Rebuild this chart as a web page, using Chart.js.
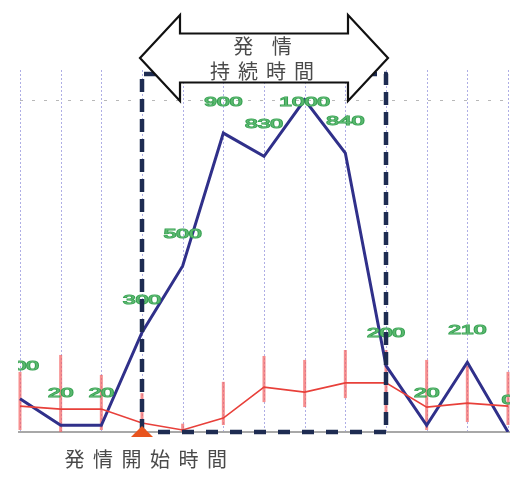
<!DOCTYPE html>
<html>
<head>
<meta charset="utf-8">
<script src="https://cdn.jsdelivr.net/npm/chart.js@4.4.1/dist/chart.umd.min.js"></script>
<style>
html,body{margin:0;padding:0;background:#fff;}
#wrap{width:519px;height:488px;position:relative;}
</style>
</head>
<body>
<div id="wrap"><canvas id="c" width="519" height="488"></canvas></div>
<script>
const categories = ['1','2','3','4','5','6','7','8','9','10','11','12','13'];
const blueValues = [100, 20, 20, 300, 500, 900, 830, 1000, 840, 200, 20, 210, 0];
const redValues  = [78, 69, 69, 27, 6, 42, 135, 120, 148, 148, 75, 87, 78];
const redErrLow  = [6, 0, 6, 0, 0, 21, 90, 75, 102, 51, 6, 30, 21];
const redErrHigh = [181, 232, 172, 117, 25, 151, 229, 217, 247, 247, 217, 199, 181];
const yGridValues = [1000];
const estrusStartIndex = 3;
const estrusEndIndex = 9;
const arrowTitleLines = ['発 情', '持続時間'];
const startLabel = '発情開始時間';

const overlay = {
  id: 'overlay',
  beforeDatasetsDraw(chart) {
    const ctx = chart.ctx, a = chart.chartArea;
    const xs = chart.scales.x, ys = chart.scales.y;
    ctx.save();
    ctx.strokeStyle = 'rgba(130,130,215,0.65)';
    ctx.lineWidth = 1;
    ctx.setLineDash([2, 2]);
    categories.forEach((c, i) => {
      const x = Math.round(xs.getPixelForValue(i)) + 0.5;
      ctx.beginPath(); ctx.moveTo(x, a.top); ctx.lineTo(x, a.bottom); ctx.stroke();
    });
    ctx.strokeStyle = '#b8b8b8';
    ctx.setLineDash([3, 9]);
    yGridValues.forEach(v => {
      const y = Math.round(ys.getPixelForValue(v)) + 0.5;
      ctx.beginPath(); ctx.moveTo(a.left, y); ctx.lineTo(a.right, y); ctx.stroke();
    });
    ctx.setLineDash([]);
    const y0 = ys.getPixelForValue(0);
    ctx.strokeStyle = '#a8a8a8';
    ctx.lineWidth = 2;
    ctx.beginPath(); ctx.moveTo(a.left - 2, y0); ctx.lineTo(a.right + 2, y0); ctx.stroke();
    ctx.strokeStyle = 'rgba(242,95,95,0.7)';
    ctx.lineWidth = 3;
    redErrLow.forEach((lo, i) => {
      const x = xs.getPixelForValue(i);
      ctx.beginPath();
      ctx.moveTo(x, ys.getPixelForValue(lo));
      ctx.lineTo(x, ys.getPixelForValue(redErrHigh[i]));
      ctx.stroke();
    });
    ctx.restore();
  },
  afterDatasetsDraw(chart) {
    const ctx = chart.ctx;
    const xs = chart.scales.x, ys = chart.scales.y;
    ctx.save();
    ctx.beginPath(); ctx.rect(18, 0, 492, 488); ctx.clip();
    const clampY = ys.getPixelForValue(yGridValues[0]) + 3;
    ctx.font = '13px "Liberation Sans", Arial, sans-serif';
    ctx.textAlign = 'center';
    ctx.textBaseline = 'middle';
    blueValues.forEach((v, i) => {
      const x = xs.getPixelForValue(i);
      const y = Math.max(ys.getPixelForValue(v) - 32, clampY);
      ctx.save();
      ctx.translate(x, y);
      ctx.scale(1.75, 1);
      ctx.lineWidth = 1.2;
      ctx.strokeStyle = '#34a050';
      ctx.strokeText(String(v), 0, 0);
      ctx.fillStyle = '#5cb870';
      ctx.fillText(String(v), 0, 0);
      ctx.restore();
    });
    ctx.restore();
  },
  afterDraw(chart) {
    const ctx = chart.ctx, a = chart.chartArea;
    const xs = chart.scales.x, ys = chart.scales.y;
    const xL = xs.getPixelForValue(estrusStartIndex);
    const xR = xs.getPixelForValue(estrusEndIndex);
    const yB = ys.getPixelForValue(0);
    const yT = a.top + 4;
    ctx.save();
    ctx.strokeStyle = '#1e2c52';
    ctx.lineWidth = 4.5;
    ctx.setLineDash([13, 7]);
    ctx.lineJoin = 'round';
    ctx.beginPath();
    ctx.moveTo(xL, yB);
    ctx.lineTo(xL, yT);
    ctx.lineTo(xR, yT);
    ctx.lineTo(xR, yB);
    ctx.stroke();
    ctx.setLineDash([12, 12]);
    ctx.beginPath();
    ctx.moveTo(xR, yB); ctx.lineTo(xL, yB);
    ctx.stroke();
    ctx.setLineDash([]);
    const tL = xL - 2, tR = xR + 2, midY = 58, head = 40, hh = 43, sh = 24.5;
    ctx.beginPath();
    ctx.moveTo(tL, midY);
    ctx.lineTo(tL + head, midY - hh);
    ctx.lineTo(tL + head, midY - sh);
    ctx.lineTo(tR - head, midY - sh);
    ctx.lineTo(tR - head, midY - hh);
    ctx.lineTo(tR, midY);
    ctx.lineTo(tR - head, midY + hh);
    ctx.lineTo(tR - head, midY + sh);
    ctx.lineTo(tL + head, midY + sh);
    ctx.lineTo(tL + head, midY + hh);
    ctx.closePath();
    ctx.fillStyle = '#ffffff';
    ctx.fill();
    ctx.strokeStyle = '#111';
    ctx.lineWidth = 2.2;
    ctx.lineJoin = 'miter';
    ctx.stroke();
    const cx = (tL + tR) / 2;
    ctx.fillStyle = '#4a4a4a';
    ctx.font = '20px "Noto Sans CJK JP", sans-serif';
    ctx.textAlign = 'center';
    ctx.textBaseline = 'middle';
    ctx.letterSpacing = '7px';
    ctx.fillText(arrowTitleLines[0], cx + 2, 46);
    ctx.letterSpacing = '8px';
    ctx.fillText(arrowTitleLines[1], cx + 2, 71);
    ctx.letterSpacing = '0px';
    ctx.fillStyle = '#e8541e';
    ctx.beginPath();
    ctx.moveTo(xL, yB - 6);
    ctx.lineTo(xL + 11, yB + 5);
    ctx.lineTo(xL - 11, yB + 5);
    ctx.closePath();
    ctx.fill();
    ctx.fillStyle = '#4a4a4a';
    ctx.font = '20px "Noto Sans CJK JP", sans-serif';
    ctx.letterSpacing = '8.5px';
    ctx.fillText(startLabel, xL + 8, 459);
    ctx.restore();
  }
};

new Chart(document.getElementById('c'), {
  type: 'line',
  data: {
    labels: categories,
    datasets: [
      {
        label: 'red',
        data: redValues,
        borderColor: '#e8403a',
        borderWidth: 1.6,
        pointRadius: 0,
        tension: 0,
        fill: false
      },
      {
        label: 'blue',
        data: blueValues,
        borderColor: '#30308a',
        borderWidth: 3,
        pointRadius: 0,
        tension: 0,
        fill: false
      }
    ]
  },
  options: {
    responsive: false,
    animation: false,
    devicePixelRatio: 1,
    layout: { padding: { left: 20, right: 11, top: 70, bottom: 56 } },
    plugins: { legend: { display: false }, tooltip: { enabled: false } },
    scales: {
      x: { type: 'category', display: false, offset: false },
      y: { display: false, min: 0, max: 1090 }
    }
  },
  plugins: [overlay]
});
</script>
</body>
</html>
